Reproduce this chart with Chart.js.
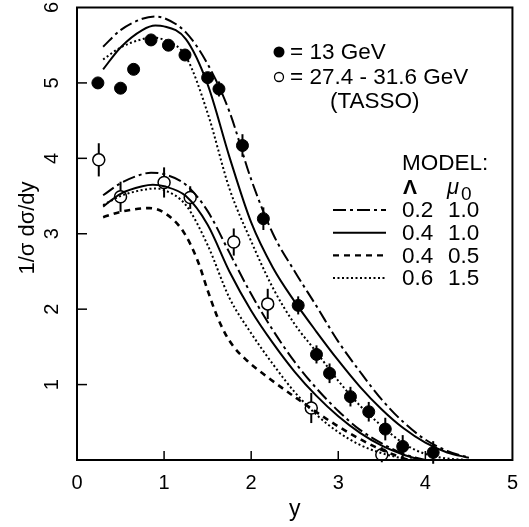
<!DOCTYPE html>
<html>
<head>
<meta charset="utf-8">
<script src="https://cdn.jsdelivr.net/npm/chart.js@4.4.0/dist/chart.umd.min.js"></script>
<style>
  html, body { margin: 0; padding: 0; background: #fff; }
  #wrap { width: 529px; height: 527px; }
</style>
</head>
<body>
<div id="wrap"><canvas id="c" width="529" height="527"></canvas></div>
<script>
// measured points, 13 GeV (filled)
const filledX = [0.24, 0.5, 0.65, 0.85, 1.05, 1.24, 1.5, 1.63, 1.9, 2.14, 2.54, 2.75, 2.9, 3.14, 3.35, 3.54, 3.74, 4.09];
const filledY = [5.0, 4.93, 5.18, 5.57, 5.5, 5.37, 5.07, 4.92, 4.17, 3.2, 2.05, 1.4, 1.15, 0.84, 0.64, 0.41, 0.18, 0.1];
const filledErr = [0, 0, 0, 0, 0, 0, 0, 0.1, 0.15, 0.15, 0.12, 0.12, 0.13, 0.13, 0.13, 0.15, 0.15, 0.15];

// measured points, 27.4 - 31.6 GeV TASSO (open)
const openX = [0.25, 0.5, 1.0, 1.3, 1.8, 2.19, 2.69, 3.5];
const openY = [3.98, 3.49, 3.68, 3.48, 2.89, 2.07, 0.69, 0.07];
const openErr = [0.22, 0.2, 0.2, 0.15, 0.18, 0.2, 0.2, 0.1];

// model curves, upper group (13 GeV)
const hi02_10 = [[0.3,5.48],[0.5,5.7],[0.75,5.85],[0.9,5.88],[1.0,5.86],[1.25,5.67],[1.5,5.25],[1.75,4.62],[2.0,3.72],[2.25,3.0],[2.5,2.5],[2.75,2.04],[3.0,1.57],[3.25,1.17],[3.5,0.8],[3.75,0.5],[4.0,0.27],[4.25,0.12],[4.5,0.03]];
const hi04_10 = [[0.3,5.18],[0.5,5.47],[0.75,5.7],[0.9,5.76],[1.0,5.75],[1.25,5.58],[1.5,4.98],[1.75,4.02],[2.0,3.15],[2.25,2.55],[2.5,2.1],[2.75,1.7],[3.0,1.32],[3.25,0.97],[3.5,0.67],[3.75,0.42],[4.0,0.23],[4.25,0.1],[4.5,0.03]];
const hi06_15 = [[0.3,5.31],[0.5,5.47],[0.75,5.58],[0.87,5.6],[1.0,5.57],[1.25,5.35],[1.5,4.6],[1.75,3.6],[2.0,2.9],[2.25,2.28],[2.5,1.8],[2.75,1.43],[3.0,1.05],[3.25,0.72],[3.5,0.45],[3.75,0.22],[4.0,0.08],[4.25,0.02],[4.5,0.0]];

// model curves, lower group (TASSO)
const lo02_10 = [[0.3,3.51],[0.5,3.67],[0.75,3.79],[0.85,3.81],[1.0,3.79],[1.25,3.65],[1.5,3.3],[1.75,2.75],[2.0,2.2],[2.25,1.72],[2.5,1.3],[2.75,0.95],[3.0,0.65],[3.25,0.4],[3.5,0.22],[3.75,0.08],[4.0,0.0]];
const lo04_10 = [[0.3,3.36],[0.5,3.53],[0.75,3.63],[0.87,3.65],[1.0,3.63],[1.25,3.5],[1.5,3.12],[1.75,2.5],[2.0,1.98],[2.25,1.55],[2.5,1.17],[2.75,0.85],[3.0,0.58],[3.25,0.36],[3.5,0.19],[3.75,0.07],[3.95,0.0]];
const lo04_05 = [[0.3,3.22],[0.5,3.29],[0.83,3.34],[1.0,3.28],[1.22,3.03],[1.39,2.63],[1.5,2.25],[1.6,1.93],[1.7,1.68],[1.8,1.5],[1.95,1.32],[2.13,1.15],[2.52,0.82],[2.98,0.46],[3.43,0.17],[3.8,0.0]];
const lo06_15 = [[0.3,3.38],[0.5,3.5],[0.75,3.58],[0.9,3.6],[1.0,3.58],[1.25,3.38],[1.5,2.85],[1.75,2.15],[2.0,1.68],[2.25,1.27],[2.5,0.9],[2.75,0.6],[3.0,0.37],[3.25,0.2],[3.5,0.09],[3.75,0.02],[3.9,0.0]];

const yTickLabels = ['1', '2', '3', '4', '5', '6'];
const modelRows = [
  { lam: '0.2', mu: '1.0', dash: [13, 4, 3, 4] },
  { lam: '0.4', mu: '1.0', dash: [] },
  { lam: '0.4', mu: '0.5', dash: [6, 5] },
  { lam: '0.6', mu: '1.5', dash: [2, 2.5] }
];

const FONT = '"Liberation Sans", Arial, sans-serif';

function curve(pts, dash) {
  return {
    data: pts.map(p => ({ x: p[0], y: p[1] })),
    showLine: true,
    pointRadius: 0,
    borderColor: '#000',
    borderWidth: dash.length === 2 && dash[0] > 4 ? 2.6 : 2,
    borderDash: dash,
    cubicInterpolationMode: 'monotone',
    fill: false
  };
}

const decorPlugin = {
  id: 'decor',
  beforeDatasetsDraw(chart) {
    const ctx = chart.ctx;
    const xs = chart.scales.x, ys = chart.scales.y;
    ctx.save();
    ctx.strokeStyle = '#000';
    ctx.lineWidth = 2;
    const bars = [[filledX, filledY, filledErr], [openX, openY, openErr]];
    bars.forEach(([bx, by, be]) => {
      bx.forEach((x, i) => {
        if (!be[i]) return;
        const px = xs.getPixelForValue(x);
        ctx.beginPath();
        ctx.moveTo(px, ys.getPixelForValue(by[i] - be[i]));
        ctx.lineTo(px, ys.getPixelForValue(by[i] + be[i]));
        ctx.stroke();
      });
    });
    ctx.restore();
  },
  afterDraw(chart) {
    const ctx = chart.ctx;
    const a = chart.chartArea;
    const xs = chart.scales.x, ys = chart.scales.y;
    ctx.save();
    ctx.strokeStyle = '#000';
    ctx.fillStyle = '#000';
    ctx.lineWidth = 2;
    ctx.strokeRect(a.left, a.top, a.right - a.left, a.bottom - a.top);

    // inward ticks
    ctx.lineWidth = 1.5;
    for (let v = 1; v <= 5; v++) {
      const py = ys.getPixelForValue(v);
      ctx.beginPath(); ctx.moveTo(a.left, py); ctx.lineTo(a.left + 10, py); ctx.stroke();
    }
    for (let v = 1; v <= 4; v++) {
      const px = xs.getPixelForValue(v);
      ctx.beginPath(); ctx.moveTo(px, a.bottom); ctx.lineTo(px, a.bottom - 9); ctx.stroke();
    }

    // rotated y tick labels
    ctx.font = '20px ' + FONT;
    ctx.textAlign = 'center';
    ctx.textBaseline = 'middle';
    yTickLabels.forEach(t => {
      ctx.save();
      ctx.translate(52, ys.getPixelForValue(Number(t)));
      ctx.rotate(-Math.PI / 2);
      ctx.fillText(t, 0, 0);
      ctx.restore();
    });

    // y title
    ctx.save();
    ctx.translate(28, 228);
    ctx.rotate(-Math.PI / 2);
    ctx.font = '22px ' + FONT;
    ctx.fillText('1/\u03c3 d\u03c3/dy', 0, 0);
    ctx.restore();

    // data legend
    ctx.textAlign = 'left';
    ctx.font = '22.5px ' + FONT;
    ctx.beginPath(); ctx.arc(279, 52, 5.5, 0, Math.PI * 2); ctx.fill();
    ctx.fillText('= 13 GeV', 290, 53);
    ctx.lineWidth = 1.3;
    ctx.beginPath(); ctx.arc(279, 77, 4.5, 0, Math.PI * 2); ctx.stroke();
    ctx.fillText('= 27.4 - 31.6 GeV', 290, 78);
    ctx.fillText('(TASSO)', 330, 102);

    // model legend
    ctx.fillText('MODEL:', 402, 164);
    ctx.font = 'bold 21px ' + FONT;
    ctx.fillText('\u039b', 403, 188);
    ctx.font = 'italic 22px ' + FONT;
    ctx.fillText('\u03bc', 447, 188);
    ctx.font = '19px ' + FONT;
    ctx.fillText('0', 461, 195);
    ctx.font = '22.5px ' + FONT;
    modelRows.forEach((r, i) => {
      const ry = 210 + i * 22.7;
      ctx.save();
      ctx.lineWidth = r.dash.length === 2 && r.dash[0] > 4 ? 2.4 : 2;
      ctx.setLineDash(r.dash);
      ctx.beginPath(); ctx.moveTo(333, ry); ctx.lineTo(386, ry); ctx.stroke();
      ctx.restore();
      ctx.fillText(r.lam, 402, ry + 1);
      ctx.fillText(r.mu, 448, ry + 1);
    });
    ctx.restore();
  }
};

new Chart(document.getElementById('c'), {
  type: 'scatter',
  data: {
    datasets: [
      curve(hi02_10, [13, 4, 3, 4]),
      curve(hi04_10, []),
      curve(hi06_15, [2, 2.5]),
      curve(lo02_10, [13, 4, 3, 4]),
      curve(lo04_10, []),
      curve(lo04_05, [6, 5]),
      curve(lo06_15, [2, 2.5]),
      {
        data: filledX.map((x, i) => ({ x: x, y: filledY[i] })),
        pointRadius: 6,
        pointBackgroundColor: '#000',
        pointBorderColor: '#000',
        pointBorderWidth: 1
      },
      {
        data: openX.map((x, i) => ({ x: x, y: openY[i] })),
        pointRadius: 6,
        pointBackgroundColor: '#fff',
        pointBorderColor: '#000',
        pointBorderWidth: 1.5
      }
    ]
  },
  options: {
    responsive: false,
    animation: false,
    devicePixelRatio: 1,
    layout: { padding: { left: 0, right: 10, top: 5, bottom: 0 } },
    plugins: { legend: { display: false }, tooltip: { enabled: false } },
    scales: {
      x: {
        type: 'linear', min: 0, max: 5,
        ticks: { stepSize: 1, color: '#000', font: { size: 20, family: FONT }, padding: 11 },
        grid: { display: false, drawTicks: false },
        border: { display: false },
        title: { display: true, text: 'y', color: '#000', font: { size: 23, family: FONT }, padding: { top: 0, bottom: 4 } },
        afterFit(s) { s.height = 67; }
      },
      y: {
        type: 'linear', min: 0, max: 6,
        ticks: { display: false, stepSize: 1 },
        grid: { display: false, drawTicks: false },
        border: { display: false },
        afterFit(s) { s.width = 77; }
      }
    }
  },
  plugins: [decorPlugin]
});
</script>
</body>
</html>
